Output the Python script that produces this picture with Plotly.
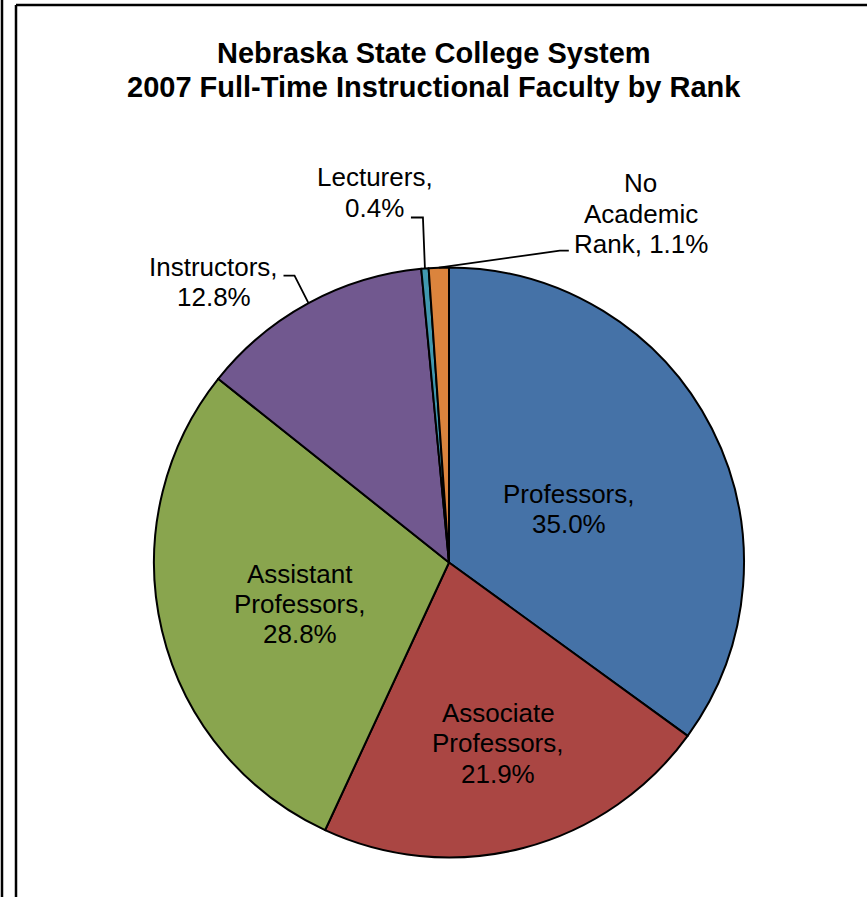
import math
import plotly.graph_objects as go

# ---- data ----
categories = ["Professors", "Associate Professors", "Assistant Professors",
              "Instructors", "Lecturers", "No Academic Rank"]
values = [35.0, 21.9, 28.8, 12.8, 0.4, 1.1]
label_templates = ["Professors,<br>{v}", "Associate<br>Professors,<br>{v}",
                   "Assistant<br>Professors,<br>{v}", "Instructors,<br>{v}",
                   "Lecturers,<br>{v}", "No<br>Academic<br>Rank, {v}"]
title_lines = ["Nebraska State College System",
               "2007 Full-Time Instructional Faculty by Rank"]

# ---- style ----
colors = ["#4572A7", "#AA4643", "#89A54E", "#71588F", "#4198AF", "#DB843D"]
W, H = 867, 897
CX, CY, R = 449, 562.5, 295
FONT = "Arial, Liberation Sans, sans-serif"
LABEL_SIZE = 26
LINE_GAP = 30.3
# inside label placement: (radial fraction, angle tweak in degrees)
inside_pos = {"Professors": (0.445, 3.1), "Associate Professors": (0.635, -0.6),
              "Assistant Professors": (0.524, -2.2)}
# outside labels: text-centre offset from slice edge, and leader path offsets
outside = {
    "Instructors": dict(text=(-95, -21), path=[(0, 0), (-14, -27.5), (-25, -27.5)]),
    "Lecturers": dict(text=(-50, -76), path=[(0, 0), (-2, -51), (-14, -51)]),
    "No Academic Rank": dict(text=(202, -54), path=[(0, 0), (121, -17), (130, -17)]),
}


def px(x):
    return x / W


def py(y):
    return 1 - y / H


fig = go.Figure(go.Pie(
    labels=categories, values=values, sort=False, direction="clockwise",
    rotation=0, textinfo="none", hoverinfo="label+percent", showlegend=False,
    marker=dict(colors=colors, line=dict(color="black", width=2)),
    domain=dict(x=[px(CX - R), px(CX + R)], y=[py(CY + R), py(CY - R)]),
))

annotations = []
shapes = []


def add_text_block(text, cx, cy, size, bold=False):
    lines = text.split("<br>")
    n = len(lines)
    for i, ln in enumerate(lines):
        yy = cy + (i - (n - 1) / 2) * LINE_GAP
        annotations.append(dict(
            text=("<b>%s</b>" % ln) if bold else ln, x=px(cx), y=py(yy),
            xref="paper", yref="paper", xanchor="center", yanchor="middle",
            showarrow=False, font=dict(family=FONT, size=size, color="black")))


total = sum(values)
cum = 0.0
for cat, v, tmpl in zip(categories, values, label_templates):
    theta = 2 * math.pi * (cum + v / 2) / total
    cum += v
    text = tmpl.format(v="%.1f%%" % v)
    if cat in inside_pos:
        frac, tweak = inside_pos[cat]
        r = frac * R
        th = theta + math.radians(tweak)
        add_text_block(text, CX + r * math.sin(th), CY - r * math.cos(th),
                       LABEL_SIZE)
    else:
        ex, ey = CX + R * math.sin(theta), CY - R * math.cos(theta)
        spec = outside[cat]
        add_text_block(text, ex + spec["text"][0], ey + spec["text"][1], LABEL_SIZE)
        pts = [(ex + dx, ey + dy) for dx, dy in spec["path"]]
        path = "M " + " L ".join("%f,%f" % (px(a), py(b)) for a, b in pts)
        shapes.append(dict(type="path", path=path, xref="paper", yref="paper",
                           line=dict(color="black", width=1.8)))

# title lines
for ln, yy in zip(title_lines, [53, 87]):
    annotations.append(dict(
        text="<b>%s</b>" % ln, x=px(434), y=py(yy), xref="paper", yref="paper",
        xanchor="center", yanchor="middle", showarrow=False,
        font=dict(family=FONT, size=29, color="black")))

# frame lines
frame = [((2, 0), (2, H)), ((16, 5), (16, H)), ((16, 5), (W, 5))]
for (x0, y0), (x1, y1) in frame:
    shapes.append(dict(type="line", xref="paper", yref="paper",
                       x0=px(x0), y0=py(y0), x1=px(x1), y1=py(y1),
                       line=dict(color="black", width=2.5)))

fig.update_layout(
    width=W, height=H, margin=dict(l=0, r=0, t=0, b=0),
    paper_bgcolor="white", plot_bgcolor="white",
    annotations=annotations, shapes=shapes,
)

fig.write_html(
    "out.html",
    config={"displayModeBar": False},
    post_script="document.body.style.margin='0';document.body.style.overflow='hidden';",
)
